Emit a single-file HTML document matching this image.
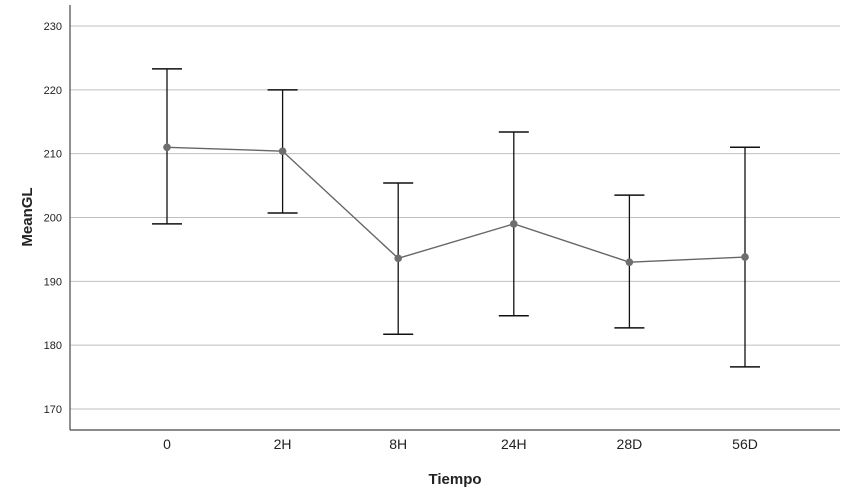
<!DOCTYPE html>
<html><head><meta charset="utf-8"><style>
body{margin:0;background:#fff;font-family:"Liberation Sans",Arial,sans-serif}
svg{display:block}
</style></head><body>
<svg id="chart" width="851" height="501" xmlns="http://www.w3.org/2000/svg"></svg>
<script>
const categories = ["0","2H","8H","24H","28D","56D"];
const means = [211.0, 210.4, 193.6, 199.0, 193.0, 193.8];
const upper = [223.3, 220.0, 205.4, 213.4, 203.5, 211.0];
const lower = [199.0, 200.7, 181.7, 184.6, 182.7, 176.6];
const yTicks = [170,180,190,200,210,220,230];

const NS="http://www.w3.org/2000/svg";
const svgRoot=document.getElementById('chart');
const plotLeft=70, plotRight=840, plotTop=5, plotBottom=430;
const yMin=166.7, yMax=233.3;
function yScale(v){return plotBottom-(v-yMin)/(yMax-yMin)*(plotBottom-plotTop);}
function xScale(i){return 167+i*115.6;}
function el(tag,attrs,txt){const e=document.createElementNS(NS,tag);for(const k in attrs)e.setAttribute(k,attrs[k]);if(txt!==undefined)e.textContent=txt;svgRoot.appendChild(e);return e;}

yTicks.forEach(t=>{
  const g=el('line',{x1:plotLeft,x2:plotRight,y1:yScale(t),y2:yScale(t),stroke:'#c0c0c0','stroke-width':1});
  
  
  const l=el('text',{x:62,y:yScale(t)+4,'text-anchor':'end','font-size':11,fill:'#222'},t);
  
  
});
const ya=el('line',{x1:plotLeft,x2:plotLeft,y1:plotTop,y2:plotBottom,stroke:'#555','stroke-width':1.3});


const xa=el('line',{x1:plotLeft,x2:plotRight,y1:plotBottom,y2:plotBottom,stroke:'#444','stroke-width':1.3});



categories.forEach((c,i)=>{
  const t=el('text',{x:xScale(i),y:449,'text-anchor':'middle','font-size':14,fill:'#222'},c);
  
  
  const v=el('line',{x1:xScale(i),x2:xScale(i),y1:yScale(upper[i]),y2:yScale(lower[i]),stroke:'#111','stroke-width':1.3});
  
  
  const cu=el('line',{x1:xScale(i)-15,x2:xScale(i)+15,y1:yScale(upper[i]),y2:yScale(upper[i]),stroke:'#111','stroke-width':1.5});
  
  
  const cl=el('line',{x1:xScale(i)-15,x2:xScale(i)+15,y1:yScale(lower[i]),y2:yScale(lower[i]),stroke:'#111','stroke-width':1.5});
  
  
});
const pts=means.map((m,i)=>xScale(i)+','+yScale(m)).join(' ');
const pl=el('polyline',{points:pts,fill:'none',stroke:'#666','stroke-width':1.4});


means.forEach((m,i)=>{
  const p=el('circle',{cx:xScale(i),cy:yScale(m),r:3.8,fill:'#6e6e6e'});
  
  
});
const xt=el('text',{x:455,y:484,'text-anchor':'middle','font-size':15,'font-weight':'bold',fill:'#222'},'Tiempo');


const yt=el('text',{x:0,y:0,'text-anchor':'middle','font-size':15,'font-weight':'bold',fill:'#222',transform:'translate(32,217) rotate(-90)'},'MeanGL');


</script>
</body></html>
